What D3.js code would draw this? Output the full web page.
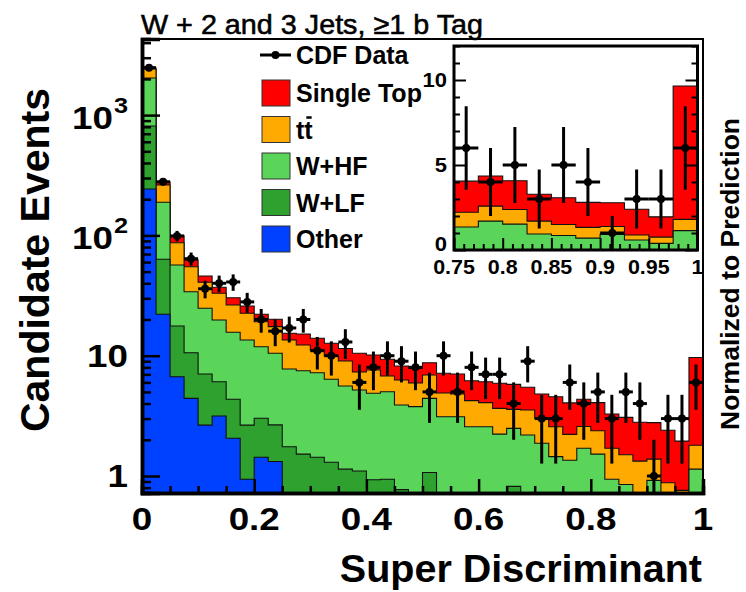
<!DOCTYPE html>
<html><head><meta charset="utf-8">
<script src="https://cdn.jsdelivr.net/npm/d3@7"></script>
<style>body{margin:0;background:#fff}</style>
</head><body>
<svg id="c" width="746" height="592"></svg>
<script>
// ---------------- data (40 bins of width 0.025 on [0,1]) ----------------
const binWidth = 0.025;
const dataCounts = [2480,279,99,64,36,40,41,28,20,16,17,20,11,10,13,6,8,10,9,8,5,10,5,8,7,7,4,9,3,3,6,4,5,3,5,4,1,3,3,6];
const other = [243,22.1,6.69,4.42,2.65,3.15,2.06,0.94,1.43,1.32,0,0,0,0,0,0,0,0,0,0,0,0,0,0,0,0,0,0,0,0,0,0,0,0,0,0,0,0,0,0];
const wlf = [569,41.2,10.97,6.17,4.39,2.93,2.28,1.71,1.59,1.34,1.75,1.52,1.43,1.30,1.14,1.10,0.93,0.94,0.77,0,1.07,0,0,0,0,0,0.82,0,0,0,0,0,0,0,0,0,0,0,0,0];
const whf = [1222,125.1,39.09,23.45,17.73,13.73,11.31,10.86,8.86,7.82,6.0,5.98,5.79,5.07,4.46,4.09,3.94,4.08,3.12,3.77,3.35,3.11,3.11,2.57,2.57,2.23,1.67,2.19,1.87,1.45,1.35,1.70,1.52,0.94,0.85,0.70,0.92,0.59,0.39,1.14];
const ttbar = [382,74.0,30.25,20.9,15.98,13.21,10.74,9.0,7.29,6.95,5.76,4.77,3.93,3.57,3.43,2.13,2.74,1.76,2.39,2.16,2.49,1.79,1.69,1.66,1.50,1.42,1.09,1.35,1.15,1.12,0.87,0.88,0.86,0.76,0.65,0.63,0.46,0.29,0.37,0.66];
const singleTop = [40,17.1,12.4,7.5,5.22,4.01,3.96,3.38,2.92,2.65,1.85,2.88,2.8,2.74,2.45,3.15,2.52,2.55,1.93,1.93,1.84,2.24,2.25,1.97,2.01,2.25,2.20,1.92,1.78,1.99,1.83,1.77,1.69,1.58,1.57,1.47,1.40,1.52,1.19,7.85];

const seriesKeys = ["other","wlf","whf","ttbar","singleTop"];
const seriesNames = {other:"Other", wlf:"W+LF", whf:"W+HF", ttbar:"tt", singleTop:"Single Top"};
const seriesColors = {other:"#0040ff", wlf:"#2ea12e", whf:"#5ad55a", ttbar:"#ffaa00", singleTop:"#ff0000"};
const legendOrder = ["singleTop","ttbar","whf","wlf","other"];

const xMajorTicks = [0,0.2,0.4,0.6,0.8,1];
const xTickLabels = ["0","0.2","0.4","0.6","0.8","1"];
const yMajorTicks = [1,10,100,1000];
const yTickLabels = [["1",""],["10",""],["10","2"],["10","3"]];
const insetXTicks = [0.75,0.8,0.85,0.9,0.95,1];
const insetXLabels = ["0.75","0.8","0.85","0.9","0.95","1"];
const insetYTicks = [0,5,10];
const insetYLabels = ["0","5","10"];

const titleText = "W + 2 and 3 Jets, \u22651 b Tag";
const xTitle = "Super Discriminant";
const yTitle = "Candidate Events";
const rightTitle = "Normalized to Prediction";

// ---------------- build ----------------
const FONT = "'Liberation Sans', Arial, Helvetica, sans-serif";
const svg = d3.select("#c");
svg.append("rect").attr("width",746).attr("height",592).attr("fill","#fff");

const nb = dataCounts.length;
const rows = d3.range(nb).map(i => ({i, x0: i*binWidth, other:other[i], wlf:wlf[i], whf:whf[i], ttbar:ttbar[i], singleTop:singleTop[i]}));
const stacked = d3.stack().keys(seriesKeys)(rows);

const px0=142, px1=703, pyTop=39, pyBot=493;
const x = d3.scaleLinear().domain([0,1]).range([px0,px1]);
const y = d3.scaleLog().domain([0.7222, 4292]).range([pyBot,pyTop]);

svg.append("clipPath").attr("id","mainclip").append("rect")
  .attr("x",px0).attr("y",pyTop).attr("width",px1-px0).attr("height",pyBot-pyTop);

function stepPoints(layer, lo, hi){
  const pts = [];
  for (let i=lo;i<hi;i++) pts.push({x: i*binWidth, v: layer[i][1]});
  pts.push({x: hi*binWidth, v: layer[hi-1][1]});
  return pts;
}

const gMain = svg.append("g").attr("clip-path","url(#mainclip)");
const safe = v => Math.max(v, 1e-4);
const areaMain = d3.area().curve(d3.curveStepAfter).x(d=>x(d.x)).y0(pyBot+5).y1(d=>y(safe(d.v)));
const lineMain = d3.line().curve(d3.curveStepAfter).x(d=>x(d.x)).y(d=>y(safe(d.v)));
for (let k=stacked.length-1;k>=0;k--){
  const layer = stacked[k];
  const pts = stepPoints(layer,0,nb);
  gMain.append("path").attr("d",areaMain(pts)).attr("fill",seriesColors[layer.key]);
  gMain.append("path").attr("d",lineMain(pts)).attr("fill","none").attr("stroke","#111").attr("stroke-width",1.1);
}

// data points
const gData = svg.append("g").attr("clip-path","url(#mainclip)");
dataCounts.forEach((n,i)=>{
  if (n<=0) return;
  const e = Math.sqrt(n);
  const cx = x((i+0.5)*binWidth), cy = y(n);
  gData.append("line").attr("x1",cx).attr("x2",cx).attr("y1",y(Math.max(n-e,1e-4))).attr("y2",y(n+e))
    .attr("stroke","#000").attr("stroke-width",3);
  gData.append("line").attr("x1",x(i*binWidth)).attr("x2",x((i+1)*binWidth)).attr("y1",cy).attr("y2",cy)
    .attr("stroke","#000").attr("stroke-width",3);
  gData.append("circle").attr("cx",cx).attr("cy",cy).attr("r",4).attr("fill","#000");
});

// frame + axes
svg.append("rect").attr("x",px0).attr("y",pyTop).attr("width",px1-px0).attr("height",pyBot-pyTop)
  .attr("fill","none").attr("stroke","#000").attr("stroke-width",2);

const xMinor = d3.range(0,1.0001,0.05).filter(v=>!xMajorTicks.some(m=>Math.abs(m-v)<1e-6));
const axB1 = svg.append("g").attr("transform",`translate(0,${pyBot})`)
  .call(d3.axisBottom(x).tickValues(xMajorTicks).tickSize(-14).tickFormat(""));
const axB2 = svg.append("g").attr("transform",`translate(0,${pyBot})`)
  .call(d3.axisBottom(x).tickValues(xMinor).tickSize(-7).tickFormat(""));
const yMinor = [];
[0.1,1,10,100,1000].forEach(d=>{ for(let m=2;m<=9;m++){ const v=d*m; if(v>0.7222 && v<4292) yMinor.push(v);} });
const axL1 = svg.append("g").attr("transform",`translate(${px0},0)`)
  .call(d3.axisLeft(y).tickValues(yMajorTicks).tickSize(-18).tickFormat(""));
const axL2 = svg.append("g").attr("transform",`translate(${px0},0)`)
  .call(d3.axisLeft(y).tickValues(yMinor).tickSize(-9).tickFormat(""));
[axB1,axB2,axL1,axL2].forEach(a=>{
  a.selectAll(".tick line").attr("stroke","#000").attr("stroke-width",2.5);
  a.select(".domain").attr("stroke","#000").attr("stroke-width",3.5);
});

function label(str, tx, ty, size, anchor, sx, weight, rot){
  const t = svg.append("text")
    .attr("transform", `translate(${tx},${ty})` + (rot?` rotate(${rot})`:"") + ` scale(${sx},1)`)
    .attr("text-anchor",anchor).attr("font-family",FONT).attr("font-weight",weight||"bold")
    .attr("font-size",size).attr("fill","#000").text(str);
  return t;
}

// x tick labels
xMajorTicks.forEach((v,i)=> label(xTickLabels[i], x(v), 530, 32, "middle", 1.15));
// y tick labels
yMajorTicks.forEach((v,i)=>{
  const [base, sup] = yTickLabels[i];
  label(base, 128 - (sup?15:0), y(v) + (sup?14:11.5), 32, "end", 1.15);
  if (sup) label(sup, 128, y(v) + 14 - 16, 22, "end", 1.15);
});

// axis titles
label(xTitle, 702, 582, 39.5, "end", 1);
label(yTitle, 49, 88, 41, "end", 1, "bold", -90);
label(rightTitle, 739, 118, 25.5, "end", 1, "bold", -90).attr("textLength",312).attr("lengthAdjust","spacingAndGlyphs");
// plot title
label(titleText, 141, 34, 28, "start", 1.0, "normal")
  .attr("textLength",342).attr("lengthAdjust","spacingAndGlyphs")
  .attr("stroke","#000").attr("stroke-width",0.55);

// ---------------- legend ----------------
const lg = svg.append("g");
lg.append("line").attr("x1",260).attr("x2",291).attr("y1",55).attr("y2",55).attr("stroke","#000").attr("stroke-width",3);
lg.append("circle").attr("cx",275.5).attr("cy",55).attr("r",4).attr("fill","#000");
label("CDF Data", 296, 64, 25, "start", 1);
legendOrder.forEach((k,j)=>{
  const cy = 93 + j*36.5;
  lg.append("rect").attr("x",262).attr("y",cy-13).attr("width",28).attr("height",26)
    .attr("fill",seriesColors[k]).attr("stroke","#333").attr("stroke-width",1);
  const t = label(seriesNames[k], 296, cy+9, 25, "start", 1);
  if (k==="ttbar"){
    const node = t.node();
    const s = node.getStartPositionOfChar(1), e = node.getEndPositionOfChar(1);
    lg.append("line").attr("x1",296+s.x+2).attr("x2",296+e.x-1).attr("y1",cy-12).attr("y2",cy-12)
      .attr("stroke","#000").attr("stroke-width",2.5);
  }
});

// ---------------- inset ----------------
const ix0=454, ix1=697.5, iyTop=46, iyBot=250;
const xi = d3.scaleLinear().domain([0.75,1]).range([ix0,ix1]);
const yi = d3.scaleLinear().domain([0,12]).range([iyBot,iyTop]);
const gi = svg.append("g");
gi.append("rect").attr("x",ix0).attr("y",iyTop).attr("width",ix1-ix0).attr("height",iyBot-iyTop).attr("fill","#fff");
svg.append("clipPath").attr("id","insclip").append("rect")
  .attr("x",ix0).attr("y",iyTop).attr("width",ix1-ix0).attr("height",iyBot-iyTop);
const gic = gi.append("g").attr("clip-path","url(#insclip)");
const lo = 30, hi = 40;
const areaIn = d3.area().curve(d3.curveStepAfter).x(d=>xi(d.x)).y0(iyBot+5).y1(d=>yi(d.v));
const lineIn = d3.line().curve(d3.curveStepAfter).x(d=>xi(d.x)).y(d=>yi(d.v));
for (let k=stacked.length-1;k>=0;k--){
  const layer = stacked[k];
  const pts = stepPoints(layer,lo,hi);
  gic.append("path").attr("d",areaIn(pts)).attr("fill",seriesColors[layer.key]);
  gic.append("path").attr("d",lineIn(pts)).attr("fill","none").attr("stroke","#111").attr("stroke-width",1.1);
}
for (let i=lo;i<hi;i++){
  const n = dataCounts[i], e=Math.sqrt(n);
  const cx = xi((i+0.5)*binWidth), cy = yi(n);
  gic.append("line").attr("x1",cx).attr("x2",cx).attr("y1",yi(Math.max(n-e,0))).attr("y2",yi(n+e)).attr("stroke","#000").attr("stroke-width",3);
  gic.append("line").attr("x1",xi(i*binWidth)).attr("x2",xi((i+1)*binWidth)).attr("y1",cy).attr("y2",cy).attr("stroke","#000").attr("stroke-width",3);
  gic.append("circle").attr("cx",cx).attr("cy",cy).attr("r",4).attr("fill","#000");
}
gi.append("rect").attr("x",ix0).attr("y",iyTop).attr("width",ix1-ix0).attr("height",iyBot-iyTop)
  .attr("fill","none").attr("stroke","#000").attr("stroke-width",3);
const iyMinor = d3.range(0,12.01,1).filter(v=>v%5!==0);
const ixMinor = d3.range(0.75,1.0001,0.01).filter(v=>!insetXTicks.some(m=>Math.abs(m-v)<1e-6));
const ia = [
  gi.append("g").attr("transform",`translate(${ix0},0)`).call(d3.axisLeft(yi).tickValues(insetYTicks).tickSize(-12).tickFormat("")),
  gi.append("g").attr("transform",`translate(${ix0},0)`).call(d3.axisLeft(yi).tickValues(iyMinor).tickSize(-6).tickFormat("")),
  gi.append("g").attr("transform",`translate(${ix1},0)`).call(d3.axisRight(yi).tickValues(insetYTicks).tickSize(-12).tickFormat("")),
  gi.append("g").attr("transform",`translate(${ix1},0)`).call(d3.axisRight(yi).tickValues(iyMinor).tickSize(-6).tickFormat("")),
  gi.append("g").attr("transform",`translate(0,${iyBot})`).call(d3.axisBottom(xi).tickValues(insetXTicks).tickSize(-12).tickFormat("")),
  gi.append("g").attr("transform",`translate(0,${iyBot})`).call(d3.axisBottom(xi).tickValues(ixMinor).tickSize(-6).tickFormat(""))
];
ia.forEach(a=>{ a.selectAll(".tick line").attr("stroke","#000").attr("stroke-width",2); a.select(".domain").attr("stroke","none"); });
insetYTicks.forEach((v,i)=> label(insetYLabels[i], 447, yi(v)+(v===0?1:7), 20, "end", 1.1));
insetXTicks.forEach((v,i)=> label(insetXLabels[i], xi(v), 273.5, 19.5, "middle", 1.1));
</script>
</body></html>
